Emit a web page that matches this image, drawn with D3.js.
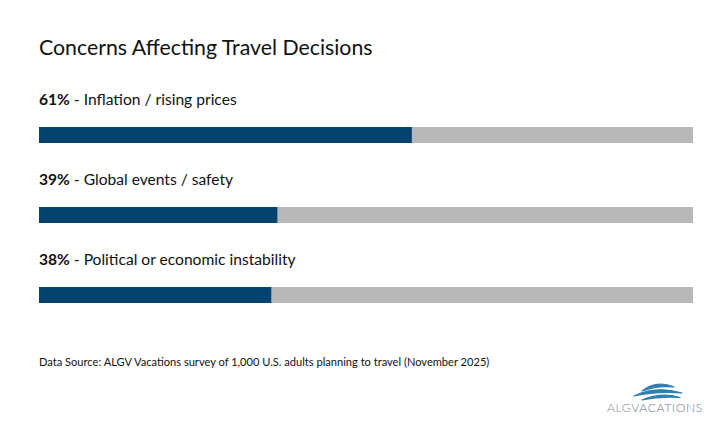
<!DOCTYPE html>
<html>
<head>
<meta charset="utf-8">
<script src="https://cdn.jsdelivr.net/npm/d3@7"></script>
<style>
html,body{margin:0;padding:0;background:#fff;}
svg{display:block;font-family:"Lato","Open Sans",sans-serif;}
</style>
</head>
<body>
<svg id="chart" width="725" height="426"></svg>
<script>
const categories = ["Inflation / rising prices", "Global events / safety", "Political or economic instability"];
const values = [61, 39, 38];
const titleText = "Concerns Affecting Travel Decisions";
const sourceText = "Data Source: ALGV Vacations survey of 1,000 U.S. adults planning to travel (November 2025)";

const svg = d3.select("#chart");

const x = d3.scaleLinear().domain([0, 107]).range([39, 693]);
const y = d3.scaleBand().domain(categories).range([87, 327]);
const barH = 16;
const barOff = 40;

svg.append("text")
  .attr("x", 39).attr("y", 55)
  .attr("font-size", 21.3).attr("fill", "#111")
  .text(titleText);

const rows = svg.append("g").selectAll("g.row").data(categories).join("g").attr("class", "row")
  .attr("transform", d => `translate(0,${y(d)})`);

rows.append("rect")
  .attr("x", x(0)).attr("y", barOff)
  .attr("width", x(107) - x(0)).attr("height", barH)
  .attr("fill", "#b8b8b8");

rows.append("rect")
  .attr("x", x(0)).attr("y", barOff)
  .attr("width", (d, i) => x(values[i]) - x(0)).attr("height", barH)
  .attr("fill", "#03436e");

const lbl = rows.append("text")
  .attr("x", 39).attr("y", 18)
  .attr("font-size", 15.6).attr("fill", "#111");
lbl.append("tspan").attr("font-weight", 700).text((d, i) => values[i] + "%");
lbl.append("tspan").text(d => " - " + d);

svg.append("text")
  .attr("x", 39).attr("y", 366)
  .attr("font-size", 11.1).attr("fill", "#111")
  .text(sourceText);

// logo
const logo = svg.append("g");
logo.append("path")
  .attr("d", "M642,391 C652,383 664,383 674,387 C666,386 656,386 642,391 Z M634,396 C650,388 665,388 682,393 C666,391.5 652,392 634,396 Z M642,400 C656,394 668,394 680,397.5 C668,396.5 656,397 642,400 Z")
  .attr("fill", "#2f7fb0").attr("stroke", "#2f7fb0").attr("stroke-width", 1.2).attr("stroke-linejoin", "round");
const lt = logo.append("text").attr("x", 607).attr("y", 412)
  .attr("font-size", 12.2).attr("letter-spacing", 0.6).attr("font-weight", 300);
lt.append("tspan").attr("fill", "#8c8c8c").text("ALG");
lt.append("tspan").attr("fill", "#6a7d8f").text("VACATIONS");
lt.append("tspan").attr("fill", "#8c8c8c").attr("font-size", 5).text(".");
</script>
</body>
</html>
